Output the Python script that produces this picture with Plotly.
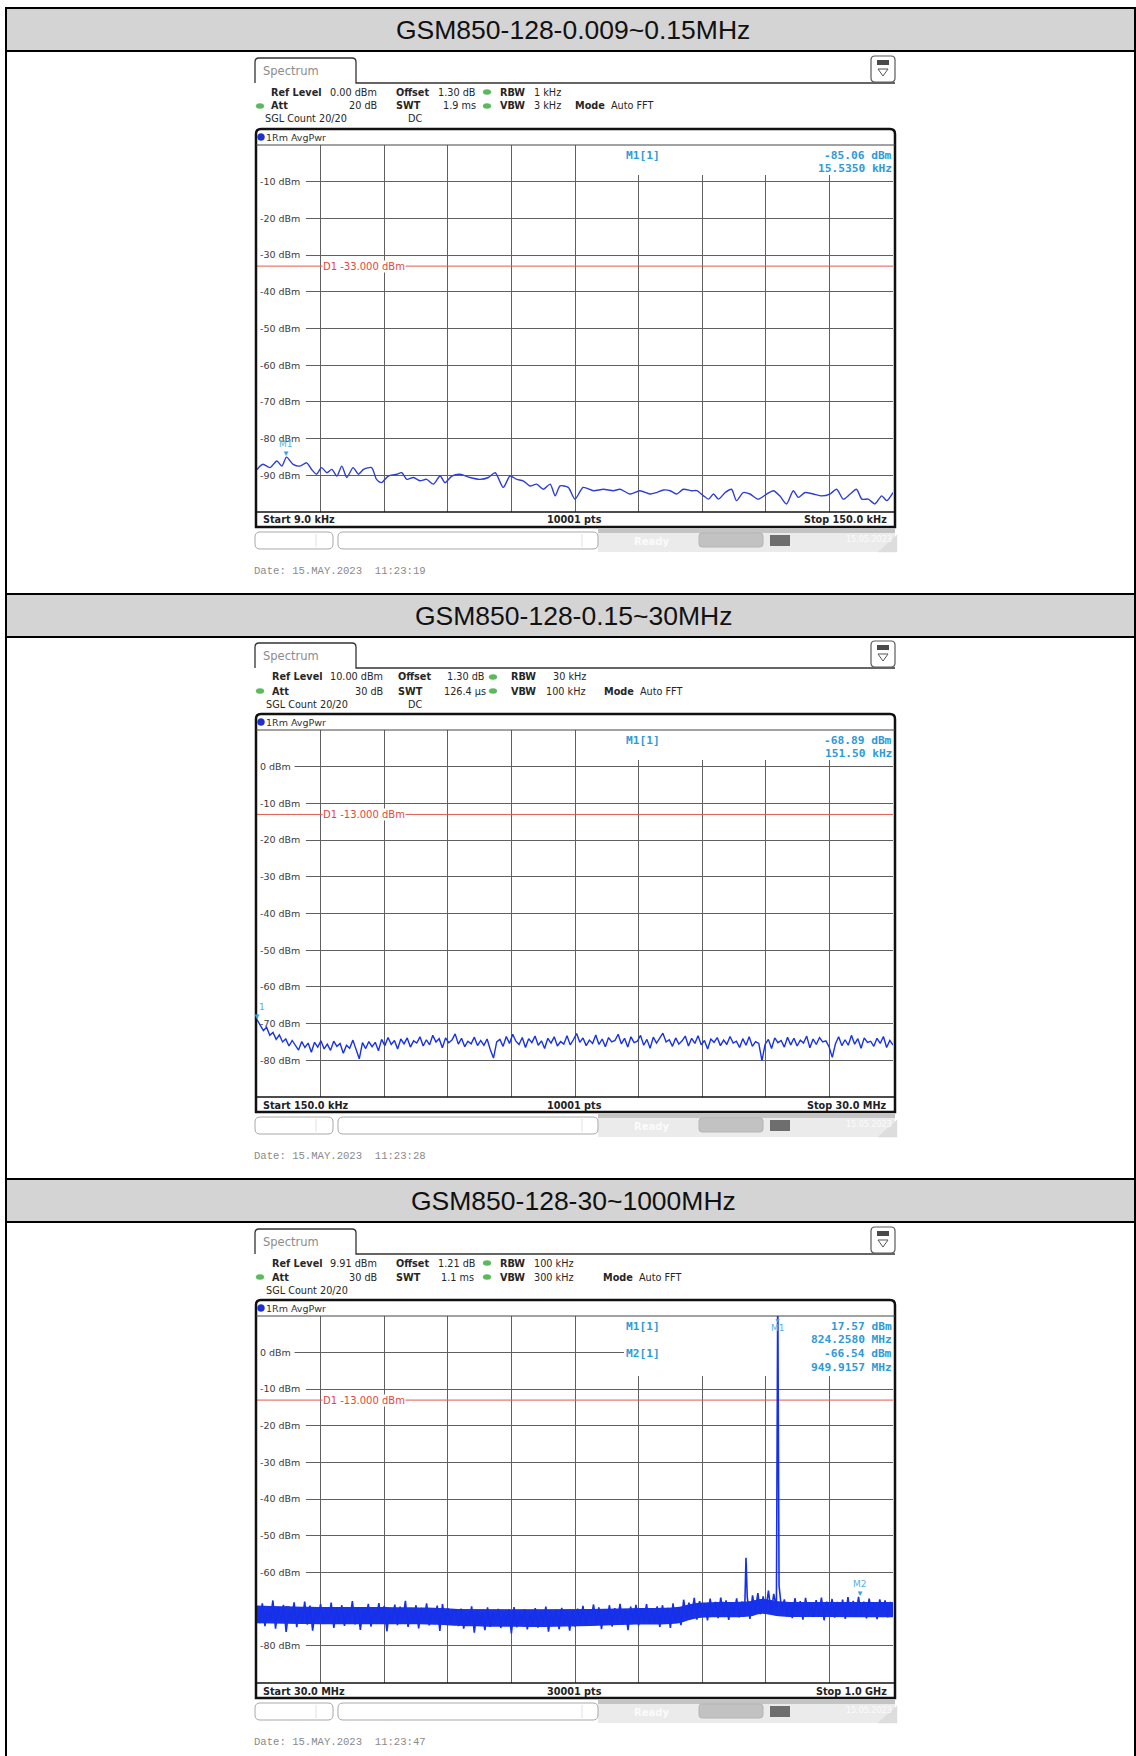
import numpy as np
import plotly.graph_objects as go

W, H = 1136, 1756

# ---------------- data ----------------
titles = ["GSM850-128-0.009~0.15MHz", "GSM850-128-0.15~30MHz", "GSM850-128-30~1000MHz"]
date_labels = ["Date: 15.MAY.2023  11:23:19", "Date: 15.MAY.2023  11:23:28", "Date: 15.MAY.2023  11:23:47"]
start_labels = ["Start 9.0 kHz", "Start 150.0 kHz", "Start 30.0 MHz"]
stop_labels = ["Stop 150.0 kHz", "Stop 30.0 MHz", "Stop 1.0 GHz"]
pts_labels = ["10001 pts", "10001 pts", "30001 pts"]
x_ranges = [[9.0, 150.0], [0.15, 30.0], [30.0, 1000.0]]
ref_levels = [0.0, 10.0, 9.91]
display_lines = [-33.0, -13.0, -13.0]
y_tick_vals = [[-10, -20, -30, -40, -50, -60, -70, -80, -90],
               [0, -10, -20, -30, -40, -50, -60, -70, -80],
               [0, -10, -20, -30, -40, -50, -60, -70, -80]]

# panel 1 : 9 kHz .. 150 kHz
p1_freq_khz = [9.0, 10.3, 11.9, 13.4, 14.5, 15.535, 17.0, 18.5, 20.0, 21.1,
               22.2, 23.3, 24.5, 25.6, 26.7, 27.8, 28.9, 30.3, 31.5, 32.6,
               34.4, 35.5, 36.6, 38.1, 40.0, 41.1, 42.2, 43.7, 45.1, 46.6,
               48.1, 49.6, 50.7, 52.2, 54.0, 56.2, 58.4, 60.3, 61.8, 63.6,
               65.1, 66.6, 68.0, 69.5, 71.0, 72.5, 74.0, 75.1, 76.2, 78.0,
               79.5, 81.3, 83.6, 85.8, 88.0, 89.5, 91.7, 93.9, 96.1, 97.6,
               99.1, 100.6, 102.0, 103.5, 105.4, 106.5, 108.0, 109.1, 110.2, 111.3,
               112.8, 114.2, 115.3, 116.8, 118.3, 120.1, 122.0, 123.5, 124.9, 126.4,
               127.9, 129.0, 130.5, 132.3, 134.2, 136.0, 137.5, 139.0, 140.5, 141.9,
               143.1, 144.5, 146.0, 147.5, 148.6, 150.0]
p1_level_dbm = [-88.4, -87.0, -87.9, -86.1, -87.5, -85.06, -87.0, -87.5, -86.6, -88.4,
                -89.7, -87.9, -89.3, -88.4, -90.2, -87.5, -90.6, -87.9, -89.7, -88.4,
                -87.9, -91.1, -92.0, -90.2, -89.7, -89.3, -91.1, -90.6, -91.5, -91.1,
                -92.4, -90.2, -92.0, -90.2, -89.7, -90.6, -91.1, -90.6, -89.3, -93.3,
                -90.2, -91.1, -91.5, -92.9, -92.4, -93.8, -92.4, -95.6, -92.9, -93.3,
                -96.5, -93.3, -94.2, -93.8, -94.2, -93.8, -95.1, -94.2, -95.1, -94.7,
                -94.0, -94.2, -95.1, -93.8, -94.2, -94.2, -95.6, -96.5, -95.1, -96.5,
                -94.7, -93.8, -96.9, -94.7, -95.1, -96.5, -95.1, -94.2, -95.6, -97.8,
                -94.2, -96.0, -94.7, -95.1, -95.6, -95.1, -93.8, -96.5, -95.1, -93.8,
                -96.5, -96.5, -97.8, -95.6, -96.9, -94.7]

# panel 2 : 0.15 .. 30 MHz (sweep points evenly spaced)
p2_level_dbm = [-68.9, -70.6, -71.9, -71.0, -73.2, -72.4, -74.3, -73.1, -75.0, -74.2,
                -76.1, -74.6, -75.8, -77.2, -74.9, -76.5, -75.3, -77.8, -75.1, -76.4,
                -74.7, -76.9, -75.6, -77.3, -74.8, -76.2, -75.4, -78.1, -75.9, -76.7,
                -74.5, -77.0, -79.6, -75.2, -76.8, -74.9, -76.3, -75.1, -77.4, -74.3,
                -76.0, -73.8, -75.7, -74.6, -76.9, -74.2, -75.5, -73.9, -76.4, -74.7,
                -75.3, -73.6, -76.1, -74.4, -75.8, -73.2, -75.0, -74.1, -76.6, -73.9,
                -75.2, -74.5, -72.8, -75.6, -74.0, -76.3, -74.8, -75.5, -73.7, -76.0,
                -74.6, -75.9, -74.2, -77.1, -79.4, -75.0, -74.3, -76.2, -73.5, -75.4,
                -72.9, -74.8, -75.7, -73.8, -76.5, -74.1, -75.2, -73.4, -75.9, -74.7,
                -76.8, -74.0, -75.3, -73.6, -76.1, -74.9, -75.6, -73.3, -75.8, -74.4,
                -72.7, -75.1, -73.9, -76.0, -74.5, -75.4, -73.1, -75.7, -74.2, -76.3,
                -73.8, -75.0, -74.6, -72.9, -75.5, -74.0, -76.4, -73.6, -75.2, -74.8,
                -73.2, -75.9, -74.3, -76.7, -73.7, -75.3, -74.1, -72.6, -75.0, -74.4,
                -76.2, -73.9, -75.6, -74.7, -73.4, -76.1, -74.0, -75.4, -73.3, -75.8,
                -74.6, -76.9, -74.2, -75.1, -73.8, -76.0, -74.5, -75.7, -73.5, -75.3,
                -74.8, -76.5, -74.1, -75.9, -73.6, -76.2, -74.9, -75.4, -80.1, -75.6,
                -74.3, -76.8, -73.9, -75.2, -74.6, -76.4, -73.7, -75.8, -74.0, -76.1,
                -74.5, -75.3, -73.4, -76.6, -74.2, -75.7, -73.8, -75.0, -74.7, -76.3,
                -79.2, -75.5, -73.6, -76.0, -74.4, -75.9, -73.2, -75.6, -74.1, -76.7,
                -73.9, -75.1, -74.8, -76.2, -74.0, -75.4, -73.5, -76.5, -74.6, -75.8]

# panel 3 : 30 .. 1000 MHz (sweep points evenly spaced) + two discrete spikes
p3_level_dbm = [-69.2, -73.8, -68.4, -74.6, -70.1, -72.9, -67.6, -75.3, -69.5, -73.1,
                -68.8, -76.2, -70.4, -72.7, -68.1, -74.9, -69.7, -73.5, -67.9, -74.2,
                -69.0, -75.8, -70.3, -72.4, -68.6, -74.0, -69.9, -73.3, -68.2, -75.1,
                -69.6, -73.7, -68.9, -74.5, -70.2, -72.8, -67.8, -74.1, -69.4, -75.6,
                -70.0, -73.0, -68.5, -74.7, -69.8, -72.6, -68.3, -73.9, -69.1, -76.0,
                -70.5, -73.4, -68.7, -74.3, -69.3, -72.9, -67.7, -74.8, -70.1, -73.2,
                -68.9, -75.2, -69.6, -73.6, -68.4, -74.4, -70.3, -72.7, -69.0, -75.9,
                -68.6, -73.8, -69.7, -74.0, -70.2,
                -70.4, -74.6, -69.8, -75.3, -70.9, -73.9, -69.2, -76.4, -70.6, -74.1,
                -71.0, -75.7, -69.5, -74.8, -70.7, -73.6, -69.9, -75.1, -71.2, -74.3,
                -70.1, -76.6, -69.4, -74.9, -70.8, -73.8, -70.0, -75.5, -71.1, -74.2,
                -69.7, -75.0, -70.5, -73.7, -69.3, -76.1, -70.9, -74.5, -70.2, -75.4,
                -69.6, -74.0, -71.0, -75.8, -70.3, -74.7,
                -69.8, -73.9, -69.1, -74.5, -70.4, -72.8, -68.7, -74.2, -69.5, -75.4,
                -70.0, -73.3, -68.9, -74.7, -69.7, -73.0, -68.5, -74.1, -70.2, -75.7,
                -69.3, -73.6, -68.8, -74.4, -69.9, -72.9, -68.6, -74.0, -70.1, -73.5,
                -69.2, -74.8, -68.9, -73.2, -69.6, -75.1, -68.4, -73.8, -69.4, -74.3,
                -67.4, -72.1, -68.2, -71.5, -66.9, -72.8, -67.8, -71.2, -68.4, -73.0,
                -67.1, -71.8, -68.0, -72.4, -66.8, -71.3, -67.6, -72.9, -68.3, -71.6,
                -67.0, -72.2, -67.9, -71.4, -66.7, -72.6,
                -66.2, -70.8, -65.6, -71.3, -66.5, -70.2, -64.9, -70.9, -65.8, -69.7,
                -63.6, -70.4,
                -67.3, -71.9, -68.1, -72.4, -67.0, -71.2, -67.8, -72.8, -66.9, -71.6,
                -68.2, -72.1, -67.5, -71.4, -66.8, -73.0, -67.9, -71.7, -67.2, -72.3,
                -68.0, -71.1, -67.4, -72.6, -66.7, -71.5, -67.7, -72.0, -66.6, -71.8,
                -67.9, -72.5, -67.1, -71.3, -68.2, -72.7, -67.3, -71.0, -67.6, -72.2,
                -68.0, -71.6]
p3_spike_freq_mhz = [775.8, 824.258]
p3_spike_level_dbm = [-56.0, 17.57]
# dense core of the 30001-point noise band (upper / lower edge)
p3_core_freq_mhz = [30, 100, 200, 300, 350, 450, 520, 600, 670, 700, 780, 800, 830, 900, 1000]
p3_core_upper_dbm = [-69.0, -69.3, -69.4, -69.6, -70.0, -70.2, -70.0, -69.7, -69.4, -68.3, -67.8, -67.2, -67.9, -68.0, -68.0]
p3_core_lower_dbm = [-73.8, -74.0, -74.1, -74.2, -74.6, -74.8, -74.6, -74.2, -73.9, -72.5, -72.0, -71.2, -72.0, -72.1, -72.2]

# marker readouts
m_freq = [15.535, 0.1515, 824.258]
m_level = [-85.06, -68.89, 17.57]
m2_freq, m2_level = 949.9157, -66.54
readouts = [["-85.06 dBm", "15.5350 kHz"],
            ["-68.89 dBm", "151.50 kHz"],
            ["17.57 dBm", "824.2580 MHz", "-66.54 dBm", "949.9157 MHz"]]

headers = [
    [[("<b>Ref Level</b>", 270, "left"), ("0.00 dBm", 378, "right"), ("<b>Offset</b>", 395, "left"),
      ("1.30 dB", 437, "left"), ("<b>RBW</b>", 499, "left"), ("1 kHz", 533, "left")],
     [("<b>Att</b>", 270, "left"), ("20 dB", 378, "right"), ("<b>SWT</b>", 395, "left"),
      ("1.9 ms", 477, "right"), ("<b>VBW</b>", 499, "left"), ("3 kHz", 533, "left"),
      ("<b>Mode</b>  Auto FFT", 574, "left")],
     [("SGL Count 20/20", 264, "left"), ("DC", 407, "left")]],
    [[("<b>Ref Level</b>", 271, "left"), ("10.00 dBm", 384, "right"), ("<b>Offset</b>", 397, "left"),
      ("1.30 dB", 485, "right"), ("<b>RBW</b>", 510, "left"), ("30 kHz", 587, "right")],
     [("<b>Att</b>", 271, "left"), ("30 dB", 384, "right"), ("<b>SWT</b>", 397, "left"),
      ("126.4 µs", 487, "right"), ("<b>VBW</b>", 510, "left"), ("100 kHz", 587, "right"),
      ("<b>Mode</b>  Auto FFT", 603, "left")],
     [("SGL Count 20/20", 265, "left"), ("DC", 407, "left")]],
    [[("<b>Ref Level</b>", 271, "left"), ("9.91 dBm", 378, "right"), ("<b>Offset</b>", 395, "left"),
      ("1.21 dB", 437, "left"), ("<b>RBW</b>", 499, "left"), ("100 kHz", 533, "left")],
     [("<b>Att</b>", 271, "left"), ("30 dB", 378, "right"), ("<b>SWT</b>", 395, "left"),
      ("1.1 ms", 475, "right"), ("<b>VBW</b>", 499, "left"), ("300 kHz", 533, "left"),
      ("<b>Mode</b>  Auto FFT", 602, "left")],
     [("SGL Count 20/20", 265, "left")]],
]
green_dots = [[(487, 0), (260, 1), (487, 1)], [(493, 0), (260, 1), (493, 1)], [(487, 0), (260, 1), (487, 1)]]

panel_dy = [0, 585, 1171]
title_dy = [0, 586, 1171]

# ---------------- helpers ----------------
shapes, anns = [], []


def X(px):
    return px / W


def Y(py):
    return 1 - py / H


def P(x, y):
    return f"{X(x):.6f},{Y(y):.6f}"


def pline(x0, y0, x1, y1, color, width=1.0, layer="above"):
    shapes.append(dict(type="line", xref="paper", yref="paper", x0=X(x0), y0=Y(y0), x1=X(x1), y1=Y(y1),
                       line=dict(color=color, width=width), layer=layer))


def prect(x0, y0, x1, y1, fill, lc=None, width=0, layer="above"):
    shapes.append(dict(type="rect", xref="paper", yref="paper", x0=X(x0), y0=Y(y0), x1=X(x1), y1=Y(y1),
                       fillcolor=fill, line=dict(color=lc or fill, width=width), layer=layer))


def pcircle(x0, y0, x1, y1, fill):
    shapes.append(dict(type="circle", xref="paper", yref="paper", x0=X(x0), y0=Y(y0), x1=X(x1), y1=Y(y1),
                       fillcolor=fill, line=dict(color=fill, width=0.5), layer="above"))


def ppath(d, color, width=1.0, fill="rgba(0,0,0,0)"):
    shapes.append(dict(type="path", xref="paper", yref="paper", path=d, fillcolor=fill,
                       line=dict(color=color, width=width), layer="above"))


def rrect_path(x0, y0, x1, y1, r, top_only=False):
    if top_only:
        return (f"M{P(x0, y1)} L{P(x0, y0 + r)} Q{P(x0, y0)} {P(x0 + r, y0)} L{P(x1 - r, y0)} "
                f"Q{P(x1, y0)} {P(x1, y0 + r)} L{P(x1, y1)} Z")
    return (f"M{P(x0 + r, y0)} L{P(x1 - r, y0)} Q{P(x1, y0)} {P(x1, y0 + r)} L{P(x1, y1 - r)} "
            f"Q{P(x1, y1)} {P(x1 - r, y1)} L{P(x0 + r, y1)} Q{P(x0, y1)} {P(x0, y1 - r)} "
            f"L{P(x0, y0 + r)} Q{P(x0, y0)} {P(x0 + r, y0)} Z")


def ptext(x, y, s, size=9.5, color="#333333", anchor="left", family="DejaVu Sans", **kw):
    anns.append(dict(xref="paper", yref="paper", x=X(x), y=Y(y), text=s, showarrow=False,
                     xanchor=anchor, yanchor="middle", borderpad=0,
                     font=dict(size=size, color=color, family=family), **kw))


# ---------------- table ----------------
for i, o in enumerate(title_dy):
    prect(6, 8 + o, 1136, 51 + o, "#d4d4d4", layer="below")
    pline(5, 8 + o, 1136, 8 + o, "#000000", 2)
    pline(5, 51 + o, 1136, 51 + o, "#000000", 2)
    ptext(573, 30 + o, titles[i], size=26.5, color="#111111", anchor="center",
          family="Liberation Sans, Arial, sans-serif")
pline(6, 7, 6, 1756, "#000000", 2)
pline(1135, 7, 1135, 1756, "#000000", 2)

BLUE_TXT = "#2e9ad6"
fig = go.Figure()
layout_axes = {}

for i in range(3):
    dy = panel_dy[i]
    ax = "" if i == 0 else str(i + 1)
    xr = x_ranges[i]
    yr = [ref_levels[i] - 100, ref_levels[i]]
    xspan = xr[1] - xr[0]

    # --- spectrum tab and header ---
    ppath(f"M{P(255, 83 + dy)} L{P(255, 62 + dy)} Q{P(255, 58 + dy)} {P(259, 58 + dy)} "
          f"L{P(352, 58 + dy)} Q{P(356, 58 + dy)} {P(356, 62 + dy)} L{P(356, 83 + dy)} L{P(895, 83 + dy)}",
          "#333333", 1.3)
    ptext(262, 71 + dy, "Spectrum", size=11.5, color="#8c8c8c")
    ppath(rrect_path(871, 56 + dy, 895, 82 + dy, 4), "#5a5a5a", 1.2, fill="#ffffff")
    prect(877, 60 + dy, 889, 65 + dy, "#4a4a4a")
    ppath(f"M{P(878, 69 + dy)} L{P(888, 69 + dy)} L{P(883, 76 + dy)} Z", "#555555", 1)

    row_y = [92, 106, 119]
    for r, row in enumerate(headers[i]):
        for (s, xx, anc) in row:
            ptext(xx, row_y[r] + dy, s, size=9.7, color="#262626", anchor=anc)
    for (xx, r) in green_dots[i]:
        shapes.append(dict(type="circle", xref="paper", yref="paper",
                           x0=X(xx - 4), x1=X(xx + 4), y0=Y(row_y[r] + dy - 2.5), y1=Y(row_y[r] + dy + 2.5),
                           fillcolor="#5cb85c", line=dict(color="#5cb85c", width=0.5), layer="above"))

    # --- graph frame ---
    ppath(rrect_path(256, 129 + dy, 895, 527 + dy, 5, top_only=True), "#111111", 2.5)
    pline(256, 145 + dy, 895, 145 + dy, "#444444", 1)
    pline(256, 512 + dy, 895, 512 + dy, "#111111", 1.3)
    pcircle(257.5, 133.5 + dy, 264.5, 140.5 + dy, "#1c2fd1")
    ptext(265, 137.5 + dy, "1Rm AvgPwr", size=9.5, color="#333333")

    ptext(262, 520 + dy, f"<b>{start_labels[i]}</b>", size=9.7, color="#222222")
    ptext(574, 520 + dy, f"<b>{pts_labels[i]}</b>", size=9.7, color="#222222", anchor="center")
    ptext(888, 520 + dy, f"<b>{stop_labels[i]}</b>", size=9.7, color="#222222", anchor="right")

    # --- status bar ---
    prect(598, 528 + dy, 895, 552 + dy, "#ebebeb")
    prect(598, 528 + dy, 895, 533 + dy, "#c4c4c4")
    ppath(rrect_path(255, 532 + dy, 333, 549 + dy, 5), "#a8a8a8", 1, fill="#ffffff")
    pline(316, 534 + dy, 316, 547 + dy, "#e2e2e2", 1)
    ppath(rrect_path(338, 532 + dy, 598, 549 + dy, 5), "#a8a8a8", 1, fill="#ffffff")
    pline(582, 534 + dy, 582, 547 + dy, "#e2e2e2", 1)
    ptext(633, 541 + dy, "<b>Ready</b>", size=10, color="#fbfbfb")
    ppath(rrect_path(699, 533 + dy, 763, 547 + dy, 3), "#b5b5b5", 1, fill="#c2c2c2")
    prect(770, 535 + dy, 790, 546 + dy, "#6e6e6e")
    ptext(845, 539 + dy, "15.05.2023", size=8, color="#fbfbfb")
    ppath(f"M{P(878, 552 + dy)} L{P(897, 535 + dy)} L{P(897, 552 + dy)} Z", "#dddddd", 0.5, fill="#dddddd")

    ptext(253, 571 + dy, date_labels[i], size=10.6, color="#8a8a8a",
          family="Liberation Mono, DejaVu Sans Mono, monospace")

    # --- axes ---
    layout_axes[f"xaxis{ax}"] = dict(domain=[X(257), X(893)], range=xr, anchor=f"y{ax}",
                                     showgrid=True, gridcolor="#606060", gridwidth=1,
                                     tick0=xr[0], dtick=xspan / 10, showticklabels=False, ticks="",
                                     zeroline=False, showline=False, fixedrange=True)
    tv = y_tick_vals[i]
    layout_axes[f"yaxis{ax}"] = dict(domain=[Y(512 + dy), Y(145 + dy)], range=yr, anchor=f"x{ax}",
                                     showgrid=True, gridcolor="#606060", gridwidth=1,
                                     tickvals=tv, ticktext=[f"{v} dBm" for v in tv],
                                     ticklabelposition="inside", ticks="", layer="below traces",
                                     tickfont=dict(family="DejaVu Sans", size=9.5, color="#3c3c3c"),
                                     zeroline=False, showline=False, fixedrange=True)
    xref, yref = f"x{ax}", f"y{ax}"
    # white gaps behind y labels
    for v in tv:
        wpx = 5.7 * len(f"{v} dBm") + 9
        shapes.append(dict(type="rect", xref=xref, yref=yref, x0=xr[0], x1=xr[0] + wpx / 636 * xspan,
                           y0=v - 0.4, y1=v + 0.4, fillcolor="#ffffff", line=dict(width=0), layer="between"))
    # marker readout box
    box_bottom = 175 if i < 2 else 205
    shapes.append(dict(type="rect", xref=xref, yref=yref, x0=xr[0] + (624 - 257) / 636 * xspan, x1=xr[1],
                       y0=yr[1] - (box_bottom - 145) * 100 / 367, y1=yr[1], fillcolor="#ffffff",
                       line=dict(width=0), layer="between"))
    # display line D1
    D = display_lines[i]
    shapes.append(dict(type="line", xref=xref, yref=yref, x0=xr[0], x1=xr[1], y0=D, y1=D,
                       line=dict(color="#e2584f", width=1), layer="between"))
    anns.append(dict(xref="paper", yref=yref, x=X(322), y=D, text=f"D1 {D:.3f} dBm", showarrow=False,
                     xanchor="left", yanchor="middle", bgcolor="#ffffff", borderpad=0,
                     font=dict(family="DejaVu Sans", size=10, color="#e0483e")))

    # marker readouts
    ptext(625, 155 + dy, "<b>M1[1]</b>", size=11.2, color=BLUE_TXT, family="DejaVu Sans Mono")
    if i == 2:
        ptext(625, 182 + dy, "<b>M2[1]</b>", size=11.2, color=BLUE_TXT, family="DejaVu Sans Mono")
    for k, s in enumerate(readouts[i]):
        ptext(893, 155 + dy + 13.8 * k, f"<b>{s}</b>", size=11.2, color=BLUE_TXT, anchor="right",
              family="DejaVu Sans Mono")

# ---------------- traces ----------------
fig.add_trace(go.Scatter(x=p1_freq_khz, y=p1_level_dbm, mode="lines", xaxis="x", yaxis="y",
                         line=dict(color="#2d3ed4", width=1.4, shape="spline", smoothing=0.7),
                         hoverinfo="skip"))
p2_freq = np.linspace(x_ranges[1][0], x_ranges[1][1], len(p2_level_dbm))
fig.add_trace(go.Scatter(x=p2_freq, y=p2_level_dbm, mode="lines", xaxis="x2", yaxis="y2",
                         line=dict(color="#1732e6", width=1.4), hoverinfo="skip"))
# panel 3: dense core band, then the noise trace with spikes
fig.add_trace(go.Scatter(x=p3_core_freq_mhz, y=p3_core_upper_dbm, mode="lines", xaxis="x3", yaxis="y3",
                         line=dict(color="#1530ea", width=0, shape="spline"), hoverinfo="skip"))
fig.add_trace(go.Scatter(x=p3_core_freq_mhz, y=p3_core_lower_dbm, mode="lines", xaxis="x3", yaxis="y3",
                         line=dict(color="#1530ea", width=0, shape="spline"), fill="tonexty",
                         fillcolor="#1a33e8", hoverinfo="skip"))
p3_freq = list(np.linspace(x_ranges[2][0], x_ranges[2][1], len(p3_level_dbm)))
p3_pairs = sorted(zip(p3_freq + p3_spike_freq_mhz, p3_level_dbm + p3_spike_level_dbm))
fig.add_trace(go.Scatter(x=[a for a, b in p3_pairs], y=[b for a, b in p3_pairs], mode="lines",
                         xaxis="x3", yaxis="y3", line=dict(color="#1530ea", width=1.6), hoverinfo="skip"))

# ---------------- markers on traces ----------------
MK = "#3aa3dc"
anns.append(dict(xref="x", yref="y", x=m_freq[0], y=m_level[0], text="▼", showarrow=False,
                 yanchor="bottom", yshift=-3, font=dict(size=8, color=MK)))
anns.append(dict(xref="x", yref="y", x=m_freq[0], y=m_level[0], text="M1", showarrow=False,
                 yanchor="bottom", yshift=6, font=dict(size=9, color="#5ab0e0", family="DejaVu Sans")))
anns.append(dict(xref="x2", yref="y2", x=m_freq[1], y=m_level[1], text="▼", showarrow=False,
                 yanchor="bottom", yshift=-3, font=dict(size=8, color=MK)))
anns.append(dict(xref="x2", yref="y2", x=m_freq[1], y=m_level[1], text="1", showarrow=False,
                 xanchor="left", yanchor="bottom", yshift=6, font=dict(size=9, color="#5ab0e0", family="DejaVu Sans")))
anns.append(dict(xref="x3", yref="paper", x=m_freq[2], y=Y(1316), text="▼", showarrow=False,
                 yanchor="top", yshift=2, font=dict(size=7, color=MK)))
anns.append(dict(xref="x3", yref="paper", x=m_freq[2], y=Y(1321), text="M1", showarrow=False,
                 yanchor="top", font=dict(size=9, color="#5ab0e0", family="DejaVu Sans")))
anns.append(dict(xref="x3", yref="y3", x=m2_freq, y=m2_level, text="▼", showarrow=False,
                 yanchor="bottom", yshift=-3, font=dict(size=8, color=MK)))
anns.append(dict(xref="x3", yref="y3", x=m2_freq, y=m2_level, text="M2", showarrow=False,
                 yanchor="bottom", yshift=6, font=dict(size=9, color="#5ab0e0", family="DejaVu Sans")))

fig.update_layout(width=W, height=H, margin=dict(l=0, r=0, t=0, b=0), autosize=False,
                  paper_bgcolor="#ffffff", plot_bgcolor="#ffffff", showlegend=False,
                  shapes=shapes, annotations=anns, **layout_axes)

fig.write_html("out.html", config={"displayModeBar": False, "staticPlot": True},
               post_script="document.body.style.margin='0px';document.body.style.overflow='hidden';")
